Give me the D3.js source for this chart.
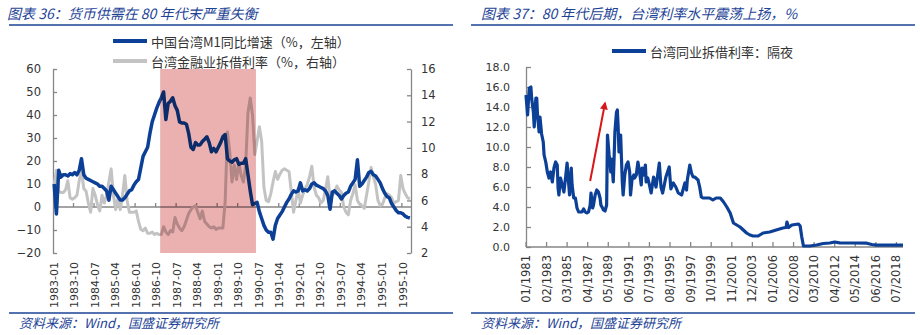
<!DOCTYPE html>
<html><head><meta charset="utf-8">
<script src="https://cdn.jsdelivr.net/npm/d3@7"></script>
<style>
html,body{margin:0;padding:0;background:#fff;}
svg text{font-family:"DejaVu Sans",sans-serif;}
</style></head>
<body><svg id="c" width="920" height="335"></svg>
<script>
// ---------- Left chart data (monthly, 1983-01 .. 1996-01) ----------
const startL = "1983-01", endL = "1996-01";
const m1Growth = [
 10,-3,16,13,14,14,13.5,14.5,14,15,
 14,16,21,14,12.5,12,11.5,11,10.5,10,
 9,9,8,7,3,9,7.5,6,4.5,3,
 3,4,5.5,7,7.5,9.5,11,12,17,22,
 24,26,32,37,40,43,45.5,47.5,50,38,
 45,46,47.5,44,42,37,36.5,36.5,36,32,
 26,25,28,27,27,28.5,29.5,30.5,28,24,
 25.5,24,26,28,30.5,31.5,21,20,19.5,20.5,
 21,18.5,19,19,21,14,7,1,1.5,2,
 -2,-5,-8,-10,-11,-11,-14,-8,-5,-3.5,
 -2,0,2,3.5,5.5,7,6.5,7,10.5,7,
 7.5,7,8,10,10.5,9.5,9,8.5,8,7,
 5,-1,6.5,7,6,5,3.5,5,6,6.5,
 9,10.5,12,20.5,9,10,11.5,13,15,15.5,
 14,13.5,12,10.5,8,6,4.5,4,1.5,0,
 -1.5,-2.5,-2.5,-3,-4,-4.5,-4.8];
const interbankL = [
 7.2,8.3,6.7,6.6,6.6,6.8,7.5,6.2,6.1,6.2,
 6.4,7.5,8.3,6.9,6.7,5.8,5.1,6.9,6.4,5.7,
 5.2,6.4,5.8,6.4,7.4,8.4,6.4,5.3,6.2,5.3,
 6.4,7.9,6.0,5.1,5.1,5.1,5.2,4.4,3.8,3.7,
 3.9,3.5,3.5,3.6,3.4,3.5,3.4,3.4,4.0,3.6,
 3.4,3.7,3.6,4.7,4.2,3.9,3.7,4.0,4.5,5.0,
 5.3,5.5,5.6,5.1,4.6,5.2,4.4,4.2,4.0,3.9,
 4.0,3.8,3.9,3.9,3.9,5.9,11.2,9.7,7.4,8.7,
 7.6,8.9,7.9,7.4,8.7,12.7,13.8,12.5,9.5,10.5,
 11.6,10.5,7.0,6.0,5.9,6.5,7.4,8.2,7.6,8.0,
 8.3,8.4,8.3,8.2,6.7,5.1,6.0,6.9,5.8,6.4,
 6.9,7.2,7.8,8.6,7.0,6.4,6.2,5.8,6.0,6.8,
 7.8,6.2,6.4,6.6,7.1,6.8,6.6,5.5,5.1,4.9,
 6.0,6.5,7.2,6.0,5.7,5.6,5.4,6.4,7.4,8.5,
 7.8,7.2,6.0,5.6,5.7,6.2,6.5,6.4,6.2,5.8,
 5.9,6.0,7.9,6.9,6.5,6.2,6.1];
const xLabelsL = ["1983-01","1983-10","1984-07","1985-04","1986-01","1986-10","1987-07","1988-04","1989-01","1989-10","1990-07","1991-04","1992-01","1992-10","1993-07","1994-04","1995-01","1995-10"];
const yTicksL = [-20,-10,0,10,20,30,40,50,60];
const yTicksR = [2,4,6,8,10,12,14,16];
const shadeStart = "1986-12", shadeEnd = "1990-05";
const legendL = ["中国台湾M1同比增速（%，左轴）","台湾金融业拆借利率（%，右轴）"];
const titleL = "图表 36：货币供需在 80 年代末严重失衡";

// ---------- Right chart data ----------
const rDates = ["1981-01","1981-03","1981-05","1981-07","1981-08","1981-10","1981-11","1982-01","1982-02","1982-03","1982-05","1982-06","1982-08","1982-10","1982-11",
"1983-01","1983-03","1983-05","1983-07","1983-09","1983-11","1984-01","1984-03","1984-04","1984-05","1984-07","1984-09","1984-11",
"1985-01","1985-03","1985-04","1985-06","1985-08","1985-09","1985-11","1986-01","1986-03","1986-05","1986-09","1986-11",
"1987-01","1987-03","1987-05","1987-07","1987-08","1987-10","1987-11","1988-01","1988-03","1988-05","1988-07","1988-08","1988-10","1988-11",
"1989-01","1989-03","1989-04","1989-06","1989-07","1989-08","1989-09","1989-11","1989-12","1990-01","1990-03","1990-04","1990-05","1990-06","1990-08","1990-09","1990-10","1990-11",
"1991-01","1991-03","1991-05","1991-07","1991-08","1991-10","1991-12","1992-01","1992-03","1992-05","1992-07","1992-09","1992-10","1992-12",
"1993-02","1993-03","1993-05","1993-07","1993-09","1993-12","1994-03","1994-07","1994-09","1994-11","1995-03","1995-07","1995-09","1995-12",
"1996-03","1996-06","1996-10","1997-02","1997-04","1997-05","1997-08","1997-10","1997-12","1998-02","1998-06","1998-08","1998-10","1998-12",
"1999-08","1999-12","2000-04","2000-09","2001-01","2001-05","2001-09","2002-01","2002-05","2002-09","2003-01","2003-05","2003-09","2004-01","2004-07",
"2005-01","2005-09","2006-05","2007-01","2007-05","2007-06","2007-08","2007-12","2008-08","2008-10","2008-12","2009-02","2009-10","2010-06",
"2011-02","2011-10","2012-04","2012-10","2014-02","2015-07","2016-01","2016-07","2019-03"];
const rValues = [15.2,13.2,15.9,16.0,14.8,13.5,12.0,14.9,14.9,13.3,11.5,13.0,11.3,10.5,9.2,
8.5,7.5,6.9,7.5,6.5,7.9,8.5,8.2,5.9,5.2,6.9,6.2,5.5,
6.9,8.4,7.2,5.2,7.9,6.2,4.9,4.9,3.9,3.5,3.5,3.8,
3.5,3.4,3.5,4.2,5.4,3.9,4.2,5.2,5.7,5.5,4.9,4.2,3.9,3.7,
3.6,4.2,11.2,9.2,8.5,7.5,8.8,6.5,8.8,11.5,13.5,13.7,12.0,9.5,11.2,8.8,6.5,5.2,
7.2,8.2,8.5,7.5,5.2,6.9,7.2,6.9,7.2,8.5,7.5,6.2,7.9,7.2,
8.2,6.5,6.9,6.2,5.4,7.0,6.0,8.4,6.0,5.4,7.0,8.0,5.8,6.4,
6.0,5.4,5.2,6.4,5.7,6.7,8.2,7.4,7.0,7.0,6.7,6.0,5.0,4.9,
4.9,4.7,4.9,4.9,4.5,4.0,3.4,2.4,2.2,2.0,1.7,1.4,1.2,1.1,1.1,
1.4,1.5,1.7,1.9,1.95,2.5,1.95,2.2,2.3,2.1,1.0,0.1,0.1,0.2,
0.35,0.4,0.5,0.42,0.4,0.38,0.25,0.18,0.18];
const xLabelsR = ["01/1981","02/1983","03/1985","04/1987","05/1989","06/1991","07/1993","08/1995","09/1997","10/1999","11/2001","12/2003","01/2006","02/2008","03/2010","04/2012","05/2014","06/2016","07/2018"];
const yTicksRt = [0,2,4,6,8,10,12,14,16,18];
const arrowFrom = ["1987-07", 6.6], arrowTo = ["1989-01", 14.4];
const legendR = "台湾同业拆借利率：隔夜";
const titleR = "图表 37：80 年代后期，台湾利率水平震荡上扬，%";
const source = "资料来源：Wind，国盛证券研究所";

// ---------- styles ----------
const BLUE = "#0c3f96", GRAY = "#c3c3c3", AXIS = "#868686", HEAD = "#1d4396", TXT = "#333";
const SHADE = "#ebb1b1", BLUE_SH = "#0b2c68", GRAY_SH = "#b48787";
const CJK = "'Noto Sans CJK SC', sans-serif";

const svg = d3.select("#c");
svg.append("rect").attr("width",920).attr("height",335).attr("fill","#fff");
const parseM = d3.timeParse("%Y-%m");
const defs = svg.append("defs");

// headers / footers
function frame(x0, x1, tx, sx, title) {
  svg.append("text").attr("x", tx).attr("y", 13).attr("dominant-baseline","central")
    .style("font-family", CJK).style("font-size","14px").style("font-style","italic")
    .attr("fill", HEAD).text(title);
  svg.append("line").attr("x1",x0).attr("x2",x1).attr("y1",25).attr("y2",25)
    .attr("stroke", HEAD).attr("stroke-width",1.5);
  svg.append("line").attr("x1",x0).attr("x2",x1).attr("y1",313).attr("y2",313)
    .attr("stroke", HEAD).attr("stroke-width",1.5);
  svg.append("text").attr("x", sx).attr("y", 322).attr("dominant-baseline","central")
    .style("font-family", CJK).style("font-size","13px").style("font-style","italic")
    .attr("fill", HEAD).text(source);
}
frame(9, 453, 7, 19, titleL);
frame(471, 915, 481, 481, titleR);

// ================= LEFT CHART =================
const monthsL = d3.timeMonth.range(parseM(startL), d3.timeMonth.offset(parseM(endL),1)).map(d3.timeFormat("%Y-%m"));
const xL = d3.scaleBand().domain(monthsL).range([53, 411]);
const cx = d => xL(d) + xL.bandwidth()/2;
const yL = d3.scaleLinear().domain([-20,60]).range([253,69]);
const yR = d3.scaleLinear().domain([2,16]).range([253,69]);
const gL = svg.append("g");

// axes
const axL = gL.append("g").attr("transform","translate(53,0)")
  .call(d3.axisLeft(yL).tickValues(yTicksL).tickSize(-4).tickSizeOuter(0).tickPadding(12));
const axR = gL.append("g").attr("transform","translate(411,0)")
  .call(d3.axisRight(yR).tickValues(yTicksR).tickSize(-4).tickSizeOuter(0).tickPadding(10));
[axL, axR].forEach(a => {
  a.selectAll("path,line").attr("stroke", AXIS).attr("stroke-width",1.3);
  a.selectAll("text").attr("fill", TXT).style("font-size","11.5px").style("font-family","'DejaVu Sans',sans-serif");
});
// zero line (category axis)
const y0 = yL(0);
function zeroAxis(g, col) {
  g.append("line").attr("x1",53).attr("x2",411).attr("y1",y0).attr("y2",y0).attr("stroke",col).attr("stroke-width",1.5);
  g.selectAll(".xt").data(monthsL.filter((d,i)=> i>0 && i%9===0)).join("line")
    .attr("x1", d=>xL(d)).attr("x2", d=>xL(d)).attr("y1", y0).attr("y2", y0-4)
    .attr("stroke", col).attr("stroke-width",1.3);
}
zeroAxis(gL, AXIS);
gL.selectAll(".xl").data(xLabelsL).join("text")
  .attr("transform", d => `translate(${cx(d)},262) rotate(-90)`)
  .attr("text-anchor","end").attr("dominant-baseline","central")
  .attr("fill", TXT).style("font-size","11px").text(d=>d);

const lineGray = d3.line().x((d,i)=>cx(monthsL[i])).y(d=>yR(d));
const lineBlue = d3.line().x((d,i)=>cx(monthsL[i])).y(d=>yL(d));
function drawLines(g, cg, cb) {
  g.append("path").datum(interbankL).attr("fill","none").attr("stroke",cg).attr("stroke-width",3)
    .attr("stroke-linejoin","round").attr("d", lineGray);
  g.append("path").datum(m1Growth).attr("fill","none").attr("stroke",cb).attr("stroke-width",3.5)
    .attr("stroke-linejoin","round").attr("d", lineBlue);
}
drawLines(gL, GRAY, BLUE);

// shaded period, with the lines re-drawn in darkened tones inside it
const sx0 = xL(shadeStart), sw = xL(shadeEnd)+xL.bandwidth()-xL(shadeStart);
const sy0 = yL(60), sh = yL(-20)-yL(60);
defs.append("clipPath").attr("id","shClip").append("rect").attr("x",sx0).attr("y",sy0).attr("width",sw).attr("height",sh);
gL.append("rect").attr("x", sx0).attr("width", sw).attr("y", sy0).attr("height", sh).attr("fill", SHADE);
const gIn = gL.append("g").attr("clip-path","url(#shClip)");
zeroAxis(gIn, "#7c5e5e");
drawLines(gIn, GRAY_SH, BLUE_SH);

// legend
[[BLUE,41],[GRAY,61]].forEach(([c,y],k)=>{
  gL.append("line").attr("x1",113).attr("x2",147).attr("y1",y).attr("y2",y).attr("stroke",c).attr("stroke-width",4);
  gL.append("text").attr("x",151).attr("y",y).attr("dominant-baseline","central")
    .style("font-family",CJK).style("font-size","13px").attr("fill",TXT).text(legendL[k]);
});

// ================= RIGHT CHART =================
const gR = svg.append("g");
const xRt = d3.scaleTime().domain([parseM("1981-01"), parseM("2019-03")]).range([526, 903]);
const yRt = d3.scaleLinear().domain([0,18]).range([247,67]);
const parseS = d3.timeParse("%m/%Y");

const axRt = gR.append("g").attr("transform","translate(526,0)")
  .call(d3.axisLeft(yRt).tickValues(yTicksRt).tickFormat(d3.format(".1f")).tickSize(-5).tickSizeOuter(0).tickPadding(16));
axRt.selectAll("path,line").attr("stroke",AXIS).attr("stroke-width",1.3);
axRt.selectAll("text").attr("fill",TXT).style("font-size","11px").style("font-family","'DejaVu Sans',sans-serif");

gR.append("line").attr("x1",526).attr("x2",903).attr("y1",247).attr("y2",247).attr("stroke",AXIS).attr("stroke-width",1.5);
gR.selectAll(".xt").data(xLabelsR).join("line")
  .attr("x1", d=>xRt(parseS(d))).attr("x2", d=>xRt(parseS(d))).attr("y1",247).attr("y2",242)
  .attr("stroke",AXIS).attr("stroke-width",1.3);
gR.selectAll(".xl").data(xLabelsR).join("text")
  .attr("transform", d => `translate(${xRt(parseS(d))},255) rotate(-90)`)
  .attr("text-anchor","end").attr("dominant-baseline","central")
  .attr("fill",TXT).style("font-size","11.5px").text(d=>d);

gR.append("path").datum(rValues).attr("fill","none").attr("stroke",BLUE).attr("stroke-width",3.2)
  .attr("stroke-linejoin","round")
  .attr("d", d3.line().x((d,i)=>xRt(parseM(rDates[i]))).y(d=>yRt(d)));

// arrow
defs.append("marker").attr("id","ah").attr("viewBox","0 0 10 10").attr("refX",8).attr("refY",5)
  .attr("markerWidth",4).attr("markerHeight",4).attr("orient","auto")
  .append("path").attr("d","M0,0L10,5L0,10z").attr("fill","#d81818");
gR.append("line")
  .attr("x1", xRt(parseM(arrowFrom[0]))).attr("y1", yRt(arrowFrom[1]))
  .attr("x2", xRt(parseM(arrowTo[0]))).attr("y2", yRt(arrowTo[1]))
  .attr("stroke","#d81818").attr("stroke-width",2).attr("marker-end","url(#ah)");

// legend
gR.append("line").attr("x1",612).attr("x2",646).attr("y1",51).attr("y2",51).attr("stroke",BLUE).attr("stroke-width",4);
gR.append("text").attr("x",650).attr("y",51).attr("dominant-baseline","central")
  .style("font-family",CJK).style("font-size","13px").attr("fill",TXT).text(legendR);
</script>
</body></html>
